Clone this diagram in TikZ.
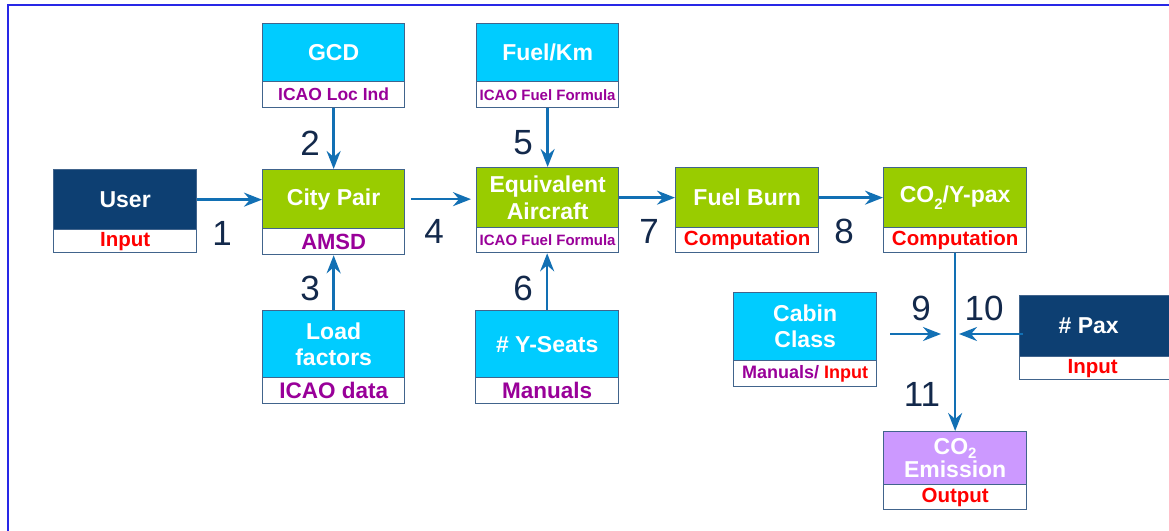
\documentclass[tikz,border=0pt]{standalone}
\usepackage{fontspec}
\setmainfont{Liberation Sans}
\usetikzlibrary{arrows.meta}
\definecolor{cyanbox}{HTML}{00CCFF}
\definecolor{greenbox}{HTML}{99CC00}
\definecolor{navybox}{HTML}{0D3F72}
\definecolor{lilac}{HTML}{CC99FF}
\definecolor{edgec}{HTML}{41648C}
\definecolor{purp}{HTML}{990099}
\definecolor{arrc}{HTML}{1270B4}
\definecolor{numc}{HTML}{13294B}
\definecolor{framec}{HTML}{2828E6}
\newcommand{\lowtwo}{\raisebox{-0.3em}{\fontsize{15}{15}\selectfont 2}}
\newcommand{\lowtwob}{\raisebox{-0.15em}{\fontsize{15}{15}\selectfont 2}}
\begin{document}
\begin{tikzpicture}[x=1pt,y=-1pt,
 topbox/.style={draw=edgec, line width=1.3pt, anchor=north west, inner sep=0pt, minimum width=142pt, text=white, align=center, font=\bfseries\fontsize{23}{26}\selectfont},
 subbox/.style={draw=edgec, line width=1.3pt, anchor=north west, inner sep=0pt, minimum width=142pt, fill=white, align=center, font=\bfseries\fontsize{20.5}{22}\selectfont},
 num/.style={text=numc, font=\fontsize{35}{35}\selectfont, inner sep=0pt},
 arr/.style={draw=arrc, line width=2.5pt, -{Stealth[length=18pt,width=14pt,inset=6pt]}}
]
\useasboundingbox (0,0) rectangle (1169,530);
\clip (0,0) rectangle (1169,530);
\fill[white] (0,0) rectangle (1169,530);
\draw[framec, line width=2pt] (7.5,535) -- (7.5,4.5) -- (1175,4.5);

% boxes
\node[topbox, fill=navybox, minimum width=143pt, minimum height=60pt] (user) at (53,169) {User};
\node[subbox, text=red, minimum width=143pt, minimum height=23pt] (userb) at (53,229) {Input};

\node[topbox, fill=cyanbox, minimum height=58pt] (gcd) at (262,23) {GCD};
\node[subbox, text=purp, minimum height=26pt, font=\bfseries\fontsize{17.5}{20}\selectfont] (gcdb) at (262,81) {ICAO Loc Ind};

\node[topbox, fill=greenbox, minimum height=59pt] (city) at (262,169) {City Pair};
\node[subbox, text=purp, minimum height=26pt, font=\bfseries\fontsize{22}{24}\selectfont] (cityb) at (262,228) {AMSD};

\node[topbox, fill=cyanbox, minimum height=58pt] (fuelkm) at (476,23) {Fuel/Km};
\node[subbox, text=purp, minimum height=26pt, font=\bfseries\fontsize{15}{17}\selectfont] (fuelkmb) at (476,81) {ICAO Fuel Formula};

\node[topbox, fill=greenbox, minimum height=60pt, font=\bfseries\fontsize{23}{27}\selectfont] (equiv) at (476,167) {Equivalent\\Aircraft};
\node[subbox, text=purp, minimum height=25pt, font=\bfseries\fontsize{15}{17}\selectfont] (equivb) at (476,227) {ICAO Fuel Formula};

\node[topbox, fill=greenbox, minimum width=143pt, minimum height=60pt] (burn) at (675,167) {Fuel Burn};
\node[subbox, text=red, minimum width=143pt, minimum height=25pt] (burnb) at (675,227) {Computation};

\node[topbox, fill=greenbox, minimum width=143pt, minimum height=60pt] (co2y) at (883,167) {CO\lowtwo/Y-pax};
\node[subbox, text=red, minimum width=143pt, minimum height=25pt] (co2yb) at (883,227) {Computation};

\node[topbox, fill=cyanbox, minimum height=67pt] (load) at (262,310) {Load\\factors};
\node[subbox, text=purp, minimum height=26pt, font=\bfseries\fontsize{22.5}{24}\selectfont] (loadb) at (262,377) {ICAO data};

\node[topbox, fill=cyanbox, minimum width=143pt, minimum height=67pt] (seats) at (475,310) {\# Y-Seats};
\node[subbox, text=purp, minimum width=143pt, minimum height=26pt, font=\bfseries\fontsize{22.5}{24}\selectfont] (seatsb) at (475,377) {Manuals};

\node[topbox, fill=cyanbox, minimum width=143pt, minimum height=68pt] (cabin) at (733,292) {Cabin\\Class};
\node[subbox, minimum width=143pt, minimum height=26pt, font=\bfseries\fontsize{18}{20}\selectfont] (cabinb) at (733,360) {\textcolor{purp}{Manuals/} \textcolor{red}{Input}};

\node[topbox, fill=navybox, minimum width=155pt, minimum height=61pt] (pax) at (1019,295) {\# Pax\hspace{17pt}};
\node[subbox, text=red, minimum width=155pt, minimum height=23pt] (paxb) at (1019,356) {Input\hspace{9pt}};

\node[topbox, fill=lilac, minimum width=143pt, minimum height=53pt, font=\bfseries\fontsize{23}{23}\selectfont] (co2e) at (883,431) {CO\lowtwob\\Emission};
\node[subbox, text=red, minimum width=143pt, minimum height=25pt] (co2eb) at (883,484) {Output};

% connectors
\coordinate (j) at (954.5,334);
\draw[arr] (user.east) -- (user.east -| city.west);
\draw[arr] (gcdb.south) -- (city.north);
\draw[arr] (load.north) -- (cityb.south);
\draw[arr, shorten <=6pt, shorten >=5pt] (city.east) -- (city.east -| equiv.west);
\draw[arr] (fuelkmb.south) -- (fuelkmb.south |- equiv.north);
\draw[arr] (seats.north) -- (seats.north |- equivb.south);
\draw[arr] (equiv.east) -- (equiv.east -| burn.west);
\draw[arr] (burn.east) -- (burn.east -| co2y.west);
\draw[arr] (co2yb.south) -- (co2e.north);
\draw[arr, shorten <=13pt, shorten >=13.5pt] (cabin.east |- j) -- (j);
\draw[arr, shorten <=-4pt, shorten >=4.5pt] (pax.west |- j) -- (j);

% labels
\node[num] (n1) at (222,233) {1};
\node[num] (n2) at (310,143) {2};
\node[num] (n3) at (310,288) {3};
\node[num] (n4) at (434,231) {4};
\node[num] (n5) at (523,143) {5};
\node[num] (n6) at (523,288) {6};
\node[num] (n7) at (649,231) {7};
\node[num] (n8) at (844,231) {8};
\node[num] (n9) at (921,308) {9};
\node[num] (n10) at (984,308) {10};
\node[num] (n11) at (922,394) {11};
\end{tikzpicture}
\end{document}
